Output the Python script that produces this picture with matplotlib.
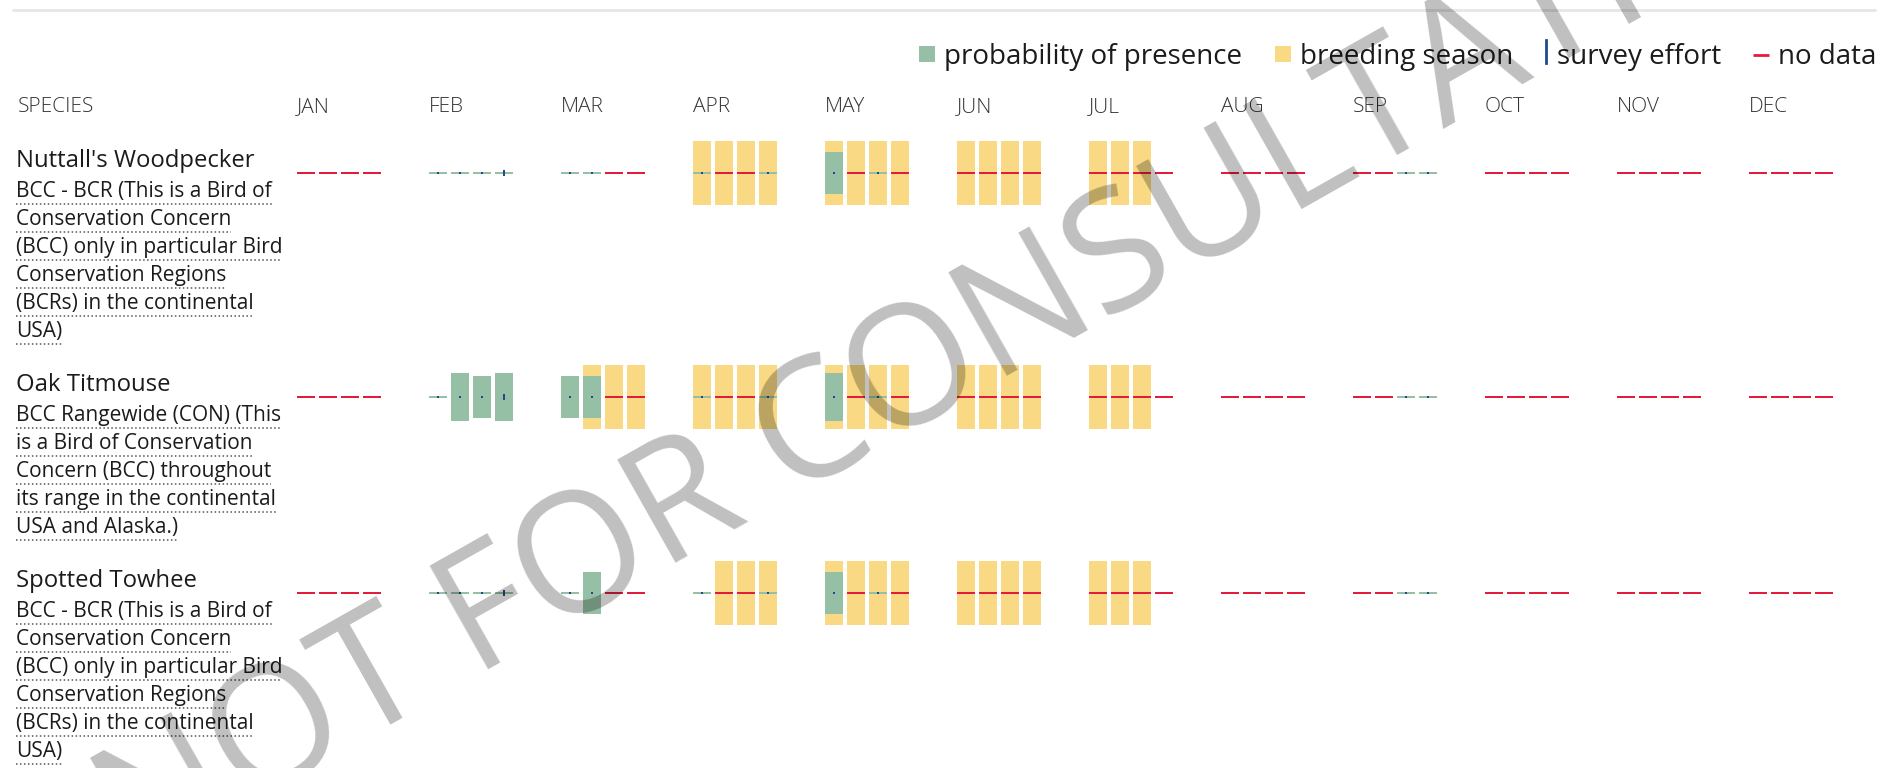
import matplotlib
matplotlib.use("Agg")
import matplotlib.pyplot as plt
import numpy as np

W, H, DPI = 1898, 768, 100

# ---------------- data ----------------
months = ["JAN", "FEB", "MAR", "APR", "MAY", "JUN", "JUL", "AUG", "SEP", "OCT", "NOV", "DEC"]
species = ["Nuttall's Woodpecker", "Oak Titmouse", "Spotted Towhee"]

desc_nuttall = ["BCC - BCR (This is a Bird of", "Conservation Concern",
                "(BCC) only in particular Bird", "Conservation Regions",
                "(BCRs) in the continental", "USA)"]
desc_titmouse = ["BCC Rangewide (CON) (This", "is a Bird of Conservation",
                 "Concern (BCC) throughout", "its range in the continental",
                 "USA and Alaska.)"]
desc_towhee = ["BCC - BCR (This is a Bird of", "Conservation Concern",
               "(BCC) only in particular Bird", "Conservation Regions",
               "(BCRs) in the continental", "USA)"]

N = None  # no data
# probability of presence per week (0-10 scale), 4 weeks per month
prob_nuttall = [N, N, N, N,  0, 0, 0, 0,  0, 0, N, N,  0, N, N, 0,
                6.5, N, 0, N,  N, N, N, N,  N, N, N, N,  N, N, N, N,
                N, N, 0, 0,  N, N, N, N,  N, N, N, N,  N, N, N, N]
prob_titmouse = [N, N, N, N,  0, 7.5, 6.5, 7.5,  6.5, 6.5, N, N,  0, N, N, 0,
                 7.5, N, 0, N,  N, N, N, N,  N, N, N, N,  N, N, N, N,
                 N, N, 0, 0,  N, N, N, N,  N, N, N, N,  N, N, N, N]
prob_towhee = [N, N, N, N,  0, 0, 0, 0,  0, 6.5, N, N,  0, N, N, 0,
               6.5, N, 0, N,  N, N, N, N,  N, N, N, N,  N, N, N, N,
               N, N, 0, 0,  N, N, N, N,  N, N, N, N,  N, N, N, N]

# survey effort per week (relative)
effort_nuttall = [0, 0, 0, 0,  1, 1, 1, 3,  1, 1, 0, 0,  1, 0, 0, 1,
                  1, 0, 1, 0,  0, 0, 0, 0,  0, 0, 0, 0,  0, 0, 0, 0,
                  0, 0, 1, 1,  0, 0, 0, 0,  0, 0, 0, 0,  0, 0, 0, 0]
effort_titmouse = [0, 0, 0, 0,  1, 1, 1, 3,  1, 1, 0, 0,  1, 0, 0, 1,
                   1, 0, 1, 0,  0, 0, 0, 0,  0, 0, 0, 0,  0, 0, 0, 0,
                   0, 0, 1, 1,  0, 0, 0, 0,  0, 0, 0, 0,  0, 0, 0, 0]
effort_towhee = [0, 0, 0, 0,  1, 1, 1, 3,  1, 1, 0, 0,  1, 0, 0, 1,
                 1, 0, 1, 0,  0, 0, 0, 0,  0, 0, 0, 0,  0, 0, 0, 0,
                 0, 0, 1, 1,  0, 0, 0, 0,  0, 0, 0, 0,  0, 0, 0, 0]

# breeding season per week (1 = breeding)
breed_nuttall = [0, 0, 0, 0,  0, 0, 0, 0,  0, 0, 0, 0,  1, 1, 1, 1,
                 1, 1, 1, 1,  1, 1, 1, 1,  1, 1, 1, 0,  0, 0, 0, 0,
                 0, 0, 0, 0,  0, 0, 0, 0,  0, 0, 0, 0,  0, 0, 0, 0]
breed_titmouse = [0, 0, 0, 0,  0, 0, 0, 0,  0, 1, 1, 1,  1, 1, 1, 1,
                  1, 1, 1, 1,  1, 1, 1, 1,  1, 1, 1, 0,  0, 0, 0, 0,
                  0, 0, 0, 0,  0, 0, 0, 0,  0, 0, 0, 0,  0, 0, 0, 0]
breed_towhee = [0, 0, 0, 0,  0, 0, 0, 0,  0, 0, 0, 0,  0, 1, 1, 1,
                1, 1, 1, 1,  1, 1, 1, 1,  1, 1, 1, 0,  0, 0, 0, 0,
                0, 0, 0, 0,  0, 0, 0, 0,  0, 0, 0, 0,  0, 0, 0, 0]

legend_labels = ["probability of presence", "breeding season", "survey effort", "no data"]
watermark = "NOT FOR CONSULTATION"

# ---------------- style ----------------
GREEN = "#95c0a5"
YELLOW = "#f9d983"
RED = "#e31c3d"
BLUE = "#1f4b8c"
FONT = ["Open Sans", "DejaVu Sans"]

X0, MONTH_W, WEEK_W, BAR_W, BAR_H, LINE_H = 297, 132, 22, 18, 64, 2.4
TEXT_X = 16

plt.rcParams["font.family"] = FONT
fig = plt.figure(figsize=(W / DPI, H / DPI), dpi=DPI)
ax = fig.add_axes([0, 0, 1, 1])
ax.set_xlim(0, W)
ax.set_ylim(H, 0)
ax.axis("off")

# top rule
ax.plot([12, 1876], [10, 10], color="#e6e6e6", lw=2, solid_capstyle="butt")

# header
HEADER_Y = 112
ax.text(18, HEADER_Y, "SPECIES", fontsize=15, fontweight="light", color="#333333", va="baseline")
for m, name in enumerate(months):
    ax.text(X0 + m * MONTH_W, HEADER_Y, name, fontsize=15, fontweight="light",
            color="#333333", va="baseline")

weeks = np.arange(48)
xs = X0 + (weeks // 4) * MONTH_W + (weeks % 4) * WEEK_W

rows = [
    (species[0], desc_nuttall, prob_nuttall, effort_nuttall, breed_nuttall),
    (species[1], desc_titmouse, prob_titmouse, effort_titmouse, breed_titmouse),
    (species[2], desc_towhee, prob_towhee, effort_towhee, breed_towhee),
]

desc_texts = []
name_base = 167
for name, desc, prob, effort, breed in rows:
    yc = name_base + 6
    ax.text(TEXT_X, name_base, name, fontsize=17.2, color="#1b1b1b", va="baseline")
    for k, line in enumerate(desc):
        t = ax.text(TEXT_X, name_base + 30 + 28 * k, line, fontsize=15,
                    color="#1b1b1b", va="baseline")
        desc_texts.append((t, name_base + 30 + 28 * k))

    p = np.array([np.nan if v is None else v for v in prob], dtype=float)
    e = np.array(effort, dtype=float)
    b = np.array(breed, dtype=bool)

    ax.bar(xs[b], BAR_H, width=BAR_W, bottom=yc - BAR_H / 2, align="edge",
           color=YELLOW, lw=0, zorder=1)
    nod = np.isnan(p)
    ax.bar(xs[nod], LINE_H, width=BAR_W, bottom=yc - LINE_H / 2, align="edge",
           color=RED, lw=0, zorder=2)
    zero = p == 0
    ax.bar(xs[zero], LINE_H, width=BAR_W, bottom=yc - LINE_H / 2, align="edge",
           color=GREEN, lw=0, zorder=2)
    pos = p > 0
    hp = p[pos] / 10 * BAR_H
    ax.bar(xs[pos], hp, width=BAR_W, bottom=yc - hp / 2, align="edge",
           color=GREEN, lw=0, zorder=2)
    ef = e > 0
    he = e[ef] * 2
    ax.bar(xs[ef] + BAR_W / 2 - 1, he, width=2, bottom=yc - he / 2, align="edge",
           color=BLUE, lw=0, zorder=3)

    name_base = name_base + 30 + 28 * (len(desc) - 1) + 54

# legend (laid out from the right)
fig.canvas.draw()
renderer = fig.canvas.get_renderer()
LEG_Y = 64
right = 1876
markers = ["green", "yellow", "blue", "red"]
items = list(zip(legend_labels, markers))[::-1]
for label, mk in items:
    t = ax.text(right, LEG_Y, label, fontsize=20, color="#1b1b1b", va="baseline", ha="right")
    bb = t.get_window_extent(renderer)
    left = bb.x0
    if mk == "green" or mk == "yellow":
        col = GREEN if mk == "green" else YELLOW
        ax.add_patch(plt.Rectangle((left - 9 - 16, LEG_Y - 18), 16, 16, color=col, lw=0))
        right = left - 9 - 16 - 33
    elif mk == "blue":
        ax.plot([left - 11, left - 11], [LEG_Y - 24, LEG_Y - 1], color=BLUE, lw=2)
        right = left - 12 - 32
    else:
        ax.plot([left - 9 - 16, left - 9], [LEG_Y - 9, LEG_Y - 9], color=RED, lw=2,
                solid_capstyle="butt")
        right = left - 9 - 16 - 31

# dotted underlines for descriptions
for t, base in desc_texts:
    bb = t.get_window_extent(renderer)
    ax.plot([bb.x0, bb.x1], [base + 7, base + 7], color="#555555", lw=1.1,
            linestyle=(0, (1, 1.6)))

# watermark
ax.text(985, 338, watermark, rotation=29.5, rotation_mode="anchor", ha="center", va="center",
        fontsize=120, color="black", alpha=0.25, zorder=10)

fig.savefig("out.png", dpi=DPI)
